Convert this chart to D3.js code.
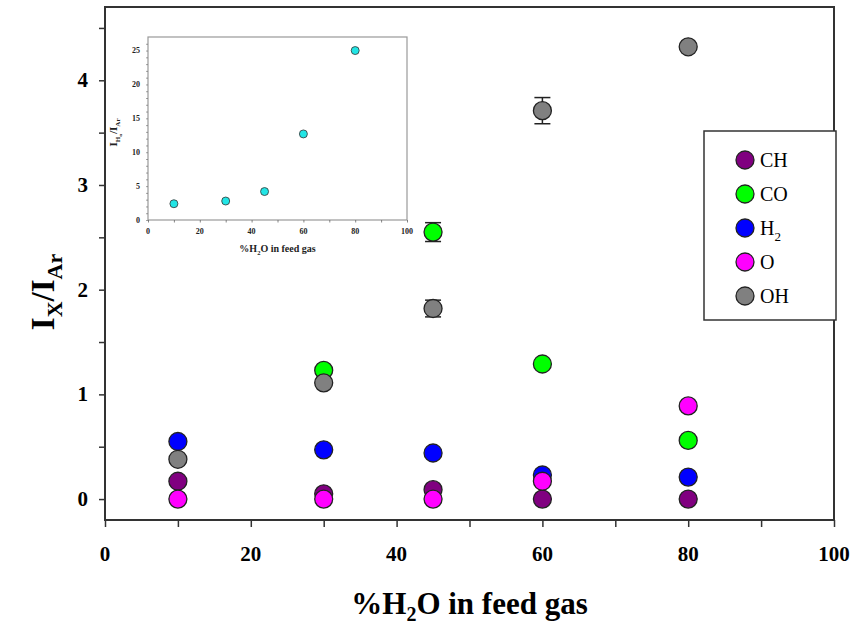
<!DOCTYPE html>
<html>
<head>
<meta charset="utf-8">
<script src="https://cdn.jsdelivr.net/npm/d3@7"></script>
<style>
  body { margin: 0; background: #fff; }
  svg { display: block; }
  text { font-family: "Liberation Serif", "Times New Roman", serif; }
</style>
</head>
<body>
<svg id="chart" width="859" height="631"></svg>
<script>
// Feed-gas water fraction (%) at which emission was measured
const waterPct = [10, 30, 45, 60, 80];

// Emission intensity ratios I_X / I_Ar for each species
const seriesNames = ["CH", "CO", "H2", "O", "OH"];
const valuesCH = [0.17, 0.05, 0.09, 0.00, 0.00];
const valuesCO = [null, 1.23, 2.55, 1.29, 0.56];
const valuesH2 = [0.55, 0.47, 0.44, 0.23, 0.21];
const valuesO  = [0.00, 0.00, 0.00, 0.17, 0.89];
const valuesOH = [0.38, 1.11, 1.82, 3.71, 4.32];

// Standard deviations (where visible)
const errorsCO = [0, 0, 0.09, 0, 0];
const errorsOH = [0, 0, 0.08, 0.125, 0];

// Inset: Hα / Ar ratio
const insetValues = [2.4, 2.8, 4.2, 12.7, 25.0];

// Axis ticks
const xTicks = [0, 20, 40, 60, 80, 100];
const yTicks = [0, 1, 2, 3, 4];
const insetXTicks = [0, 20, 40, 60, 80, 100];
const insetYTicks = [0, 5, 10, 15, 20, 25];

const colors = { CH: "#800080", CO: "#00ff00", H2: "#0000ff", O: "#ff00ff", OH: "#808080" };
const seriesValues = { CH: valuesCH, CO: valuesCO, H2: valuesH2, O: valuesO, OH: valuesOH };
const seriesErrors = { CO: errorsCO, OH: errorsOH };

const svg = d3.select("#chart");

// ---------- main plot ----------
const frame = { left: 105, right: 834, top: 7, bottom: 520 };
const x = d3.scaleLinear().domain([0, 100]).range([frame.left, frame.right]);
const y = d3.scaleLinear().domain([-0.2, 4.7]).range([frame.bottom, frame.top]);

const axisColor = "#333";

// frame
svg.append("rect")
  .attr("x", frame.left).attr("y", frame.top)
  .attr("width", frame.right - frame.left).attr("height", frame.bottom - frame.top)
  .attr("fill", "none").attr("stroke", axisColor).attr("stroke-width", 2);

// x axis ticks (major + minor)
const xAxisG = svg.append("g").attr("transform", `translate(0,${frame.bottom})`);
xAxisG.call(d3.axisBottom(x).tickValues(d3.range(0, 101, 10)).tickSize(7).tickFormat(""))
  .call(g => g.select(".domain").remove())
  .call(g => g.selectAll("line").attr("stroke", axisColor).attr("stroke-width", 1.5));
xAxisG.selectAll(".xlab").data(xTicks).enter().append("text")
  .attr("x", d => x(d)).attr("y", 41)
  .attr("text-anchor", "middle")
  .attr("font-size", 21).attr("font-weight", "bold").attr("fill", "#000")
  .text(d => d);

// y axis ticks (major + minor)
const yAxisG = svg.append("g").attr("transform", `translate(${frame.left},0)`);
yAxisG.call(d3.axisLeft(y).tickValues(d3.range(0, 4.51, 0.5)).tickSize(6).tickFormat(""))
  .call(g => g.select(".domain").remove())
  .call(g => g.selectAll("line").attr("stroke", axisColor).attr("stroke-width", 1.5));
yAxisG.selectAll(".ylab").data(yTicks).enter().append("text")
  .attr("x", -17).attr("y", d => y(d) + 7)
  .attr("text-anchor", "end")
  .attr("font-size", 21).attr("font-weight", "bold").attr("fill", "#000")
  .text(d => d);

// axis titles
const xTitle = svg.append("text")
  .attr("x", (frame.left + frame.right) / 2).attr("y", 614)
  .attr("text-anchor", "middle").attr("font-size", 31).attr("font-weight", "bold");
xTitle.append("tspan").text("%H");
xTitle.append("tspan").attr("font-size", 20).attr("dy", 7).text("2");
xTitle.append("tspan").attr("dy", -7).text("O in feed gas");

const yTitle = svg.append("text")
  .attr("transform", `translate(54,292) rotate(-90)`)
  .attr("text-anchor", "middle").attr("font-size", 33).attr("font-weight", "bold");
yTitle.append("tspan").text("I");
yTitle.append("tspan").attr("font-size", 22).attr("dy", 8).text("X");
yTitle.append("tspan").attr("dy", -8).text("/I");
yTitle.append("tspan").attr("font-size", 22).attr("dy", 8).text("Ar");

// ---------- inset ----------
const inset = { left: 148, right: 407, top: 37, bottom: 220 };
const xi = d3.scaleLinear().domain([0, 100]).range([inset.left, inset.right]);
const yi = d3.scaleLinear().domain([0, 27]).range([inset.bottom, inset.top]);
const insetStroke = "#999";

svg.append("rect")
  .attr("x", inset.left).attr("y", inset.top)
  .attr("width", inset.right - inset.left).attr("height", inset.bottom - inset.top)
  .attr("fill", "#fff").attr("stroke", insetStroke).attr("stroke-width", 1.2);

const xiG = svg.append("g").attr("transform", `translate(0,${inset.bottom})`);
xiG.call(d3.axisBottom(xi).tickValues(d3.range(0, 101, 10)).tickSize(2.5).tickFormat(""))
  .call(g => g.select(".domain").remove())
  .call(g => g.selectAll("line").attr("stroke", "#666").attr("stroke-width", 0.8));
xiG.selectAll(".xil").data(insetXTicks).enter().append("text")
  .attr("x", d => xi(d)).attr("y", 14)
  .attr("text-anchor", "middle").attr("font-size", 8).attr("font-weight", "bold")
  .attr("fill", "#222")
  .text(d => d);

const yiG = svg.append("g").attr("transform", `translate(${inset.left},0)`);
yiG.call(d3.axisLeft(yi).tickValues(d3.range(0, 27, 1)).tickSize(2).tickFormat(""))
  .call(g => g.select(".domain").remove())
  .call(g => g.selectAll("line").attr("stroke", "#666").attr("stroke-width", 0.6));
yiG.selectAll(".yil").data(insetYTicks).enter().append("text")
  .attr("x", -8).attr("y", d => yi(d) + 2.8)
  .attr("text-anchor", "end").attr("font-size", 8).attr("font-weight", "bold")
  .attr("fill", "#222")
  .text(d => d);

const xiTitle = svg.append("text")
  .attr("x", (inset.left + inset.right) / 2).attr("y", 252)
  .attr("text-anchor", "middle").attr("font-size", 10).attr("font-weight", "bold").attr("fill", "#222");
xiTitle.append("tspan").text("%H");
xiTitle.append("tspan").attr("font-size", 6.5).attr("dy", 2.5).text("2");
xiTitle.append("tspan").attr("dy", -2.5).text("O in feed gas");

const yiTitle = svg.append("text")
  .attr("transform", `translate(117,${(inset.top + inset.bottom) / 2 + 4}) rotate(-90)`)
  .attr("text-anchor", "middle").attr("font-size", 11).attr("font-weight", "bold").attr("fill", "#222");
yiTitle.append("tspan").text("I");
yiTitle.append("tspan").attr("font-size", 7).attr("dy", 3).text("H");
yiTitle.append("tspan").attr("font-size", 5).attr("dy", 1.5).text("α");
yiTitle.append("tspan").attr("dy", -4.5).text("/I");
yiTitle.append("tspan").attr("font-size", 7).attr("dy", 3).text("Ar");

svg.append("g").selectAll("circle")
  .data(waterPct.map((w, i) => ({ w, v: insetValues[i] })))
  .enter().append("circle")
  .attr("cx", d => xi(d.w)).attr("cy", d => yi(d.v)).attr("r", 4)
  .attr("fill", "#22e5e5").attr("stroke", "#333").attr("stroke-width", 0.8);

// ---------- main data ----------
const pts = svg.append("g");
seriesNames.forEach(name => {
  const vals = seriesValues[name];
  const errs = seriesErrors[name];
  waterPct.forEach((w, i) => {
    const v = vals[i];
    if (v === null) return;
    const cx = x(w), cy = y(v);
    if (errs && errs[i] > 0) {
      const e = errs[i];
      pts.append("line").attr("x1", cx).attr("x2", cx)
        .attr("y1", y(v - e)).attr("y2", y(v + e))
        .attr("stroke", "#222").attr("stroke-width", 1.5);
      [v - e, v + e].forEach(ev => {
        pts.append("line").attr("x1", cx - 8).attr("x2", cx + 8)
          .attr("y1", y(ev)).attr("y2", y(ev))
          .attr("stroke", "#222").attr("stroke-width", 1.5);
      });
    }
    pts.append("circle")
      .attr("cx", cx).attr("cy", cy).attr("r", 9)
      .attr("fill", colors[name]).attr("stroke", "#222").attr("stroke-width", 1.3);
  });
});

// ---------- legend ----------
const legend = svg.append("g");
legend.append("rect")
  .attr("x", 704).attr("y", 131).attr("width", 132).attr("height", 189)
  .attr("fill", "#fff").attr("stroke", axisColor).attr("stroke-width", 1.5);
const legendY = d3.scalePoint().domain(seriesNames).range([160, 296]);
seriesNames.forEach(name => {
  const ly = legendY(name);
  legend.append("circle").attr("cx", 745).attr("cy", ly).attr("r", 9)
    .attr("fill", colors[name]).attr("stroke", "#222").attr("stroke-width", 1.3);
  const t = legend.append("text").attr("x", 760).attr("y", ly + 7).attr("font-size", 20);
  if (name === "H2") {
    t.append("tspan").text("H");
    t.append("tspan").attr("font-size", 13).attr("dy", 6).text("2");
  } else {
    t.text(name);
  }
});
</script>
</body>
</html>
